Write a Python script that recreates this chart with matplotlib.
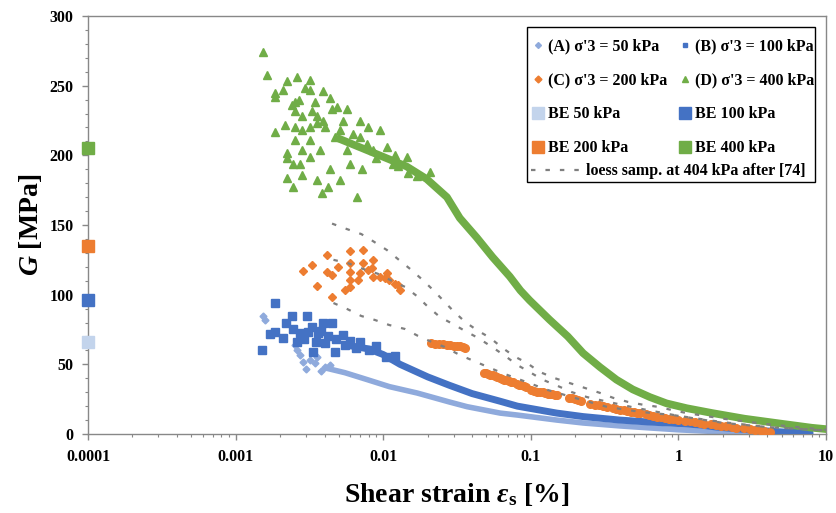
import matplotlib
matplotlib.use('Agg')
import matplotlib.pyplot as plt
from matplotlib.lines import Line2D
from matplotlib.patches import Rectangle
from matplotlib.ticker import FuncFormatter, MultipleLocator

plt.rcParams['font.family'] = ['Liberation Serif', 'DejaVu Serif']
plt.rcParams['font.weight'] = 'bold'
plt.rcParams['mathtext.fontset'] = 'custom'
plt.rcParams['mathtext.rm'] = 'Liberation Serif:bold'
plt.rcParams['mathtext.it'] = 'Liberation Serif:bold:italic'

# --- data (strain in %, G in MPa) ---
# (A) sigma'3 = 50 kPa : scattered start + dense band
a_scat_x = [0.00153, 0.00158, 0.00252, 0.0026, 0.00273, 0.00285, 0.00319, 0.00345,
            0.00356, 0.00403, 0.00437, 0.0030, 0.0038]
a_scat_g = [85, 82, 64, 60, 57, 52, 53, 51, 55, 48, 49.5, 47, 45]
a_band_x = [0.0042, 0.0055, 0.0078, 0.011, 0.017, 0.028, 0.037, 0.062, 0.081, 0.15,
            0.226, 0.4, 0.65, 1.0, 1.8, 3.0]
a_band_g = [47, 44, 39, 34, 29.4, 23, 19.6, 15, 13.6, 10, 7.9, 5.8, 4.3, 3.0, 1.7, 0.8]

# (B) sigma'3 = 100 kPa
b_scat_x = [0.00151, 0.00185, 0.00185, 0.00209, 0.0024, 0.00245, 0.00273, 0.00305,
            0.00309, 0.0033, 0.00334, 0.00362, 0.00391, 0.00403, 0.0045, 0.00471,
            0.00534, 0.0017, 0.0022, 0.0026, 0.0029, 0.0035, 0.0042, 0.0055, 0.006,
            0.0038, 0.0048, 0.0065, 0.007, 0.008, 0.009, 0.0105, 0.012]
b_scat_g = [60, 94, 73, 69, 85, 75, 72.5, 85, 73, 77, 59, 72.5, 80, 65, 80, 59,
            71, 72, 80, 66, 68, 66, 70, 64, 67, 74, 68, 62, 66, 60, 63, 55, 56]
b_band_x = [0.0055, 0.008, 0.01, 0.013, 0.02, 0.028, 0.04, 0.062, 0.081, 0.15,
            0.226, 0.4, 0.65, 1.0, 1.4, 1.8, 3.0, 5.0, 7.8]
b_band_g = [64, 61, 57, 50, 41, 35, 29, 23.5, 20, 15, 12.5, 10, 8.5, 7.5, 6.5, 5,
            3, 1.5, 0.7]

# (C) sigma'3 = 200 kPa : scattered points + clustered segments
c_scat_x = [0.00286, 0.0033, 0.00356, 0.00416, 0.00416, 0.0045, 0.00494, 0.00551,
            0.00595, 0.00595, 0.00595, 0.00595, 0.00675, 0.0073, 0.0073, 0.0070,
            0.0079, 0.0085, 0.0085, 0.0095, 0.0103, 0.011, 0.012, 0.013, 0.0045,
            0.00595, 0.0084, 0.0106, 0.0126]
c_scat_g = [117, 121, 106, 128.5, 116, 98.5, 120, 103.5, 131, 123, 116, 110.5,
            110.5, 132, 122.5, 115.5, 117.7, 125, 113, 113, 112, 110.5, 108, 103.5,
            114, 105.5, 119, 115.5, 107]
c_clus_x = [0.021, 0.0225, 0.024, 0.0255, 0.027, 0.0285, 0.030, 0.0315, 0.033, 0.0345, 0.036,
            0.048, 0.0495, 0.051, 0.053, 0.055, 0.057, 0.059,
            0.062, 0.064, 0.066, 0.0685, 0.071, 0.0735, 0.076,
            0.080, 0.083, 0.086, 0.0895, 0.093,
            0.10, 0.105, 0.11, 0.115, 0.12, 0.125, 0.13, 0.135, 0.14, 0.145, 0.15,
            0.18, 0.19, 0.20, 0.21, 0.22,
            0.25, 0.27, 0.29, 0.31, 0.33,
            0.36, 0.38, 0.40, 0.425, 0.45, 0.475, 0.50, 0.525, 0.55,
            0.60, 0.635, 0.67, 0.715, 0.76, 0.81, 0.86, 0.92, 0.99,
            1.1, 1.2, 1.3, 1.4, 1.5, 1.65, 1.8, 1.95, 2.1, 2.3, 2.46,
            2.8, 3.05, 3.3, 3.55, 3.8, 4.2]
c_clus_g = [65, 64.8, 64.5, 64.3, 64, 63.8, 63.5, 63.3, 63, 62.5, 62,
            44, 43.5, 43, 42.5, 42, 41.5, 41,
            40, 39.5, 39, 38.5, 38, 37.5, 37,
            36, 35.5, 35, 34.5, 34,
            31.5, 31, 30.5, 30.3, 30, 29.5, 29, 28.8, 28.5, 28.2, 28,
            26, 25.5, 25, 24.2, 23.5,
            21.5, 21, 20.5, 20, 19.5,
            18.6, 18, 17.5, 17, 16.5, 16, 15.5, 15.2, 15,
            14, 13.5, 13, 12.5, 12, 11.5, 11, 10.5, 10,
            9.5, 9, 8.5, 8, 7.5, 7, 6.5, 6, 5.5, 5, 4.5,
            4, 3.5, 3, 2.6, 2.2, 1.5]

# (D) sigma'3 = 400 kPa
d_scat_x = [0.00153, 0.00163, 0.00185, 0.00185, 0.00209, 0.00223, 0.0026, 0.00295,
            0.00319, 0.00319, 0.00185, 0.00216, 0.00223, 0.00223, 0.00245, 0.00223,
            0.00253, 0.00253, 0.00253, 0.00253, 0.00282, 0.00282, 0.00282, 0.00273,
            0.00245, 0.00282, 0.00319, 0.00319, 0.00319, 0.00345, 0.00356, 0.00373,
            0.00356, 0.00385, 0.00391, 0.00403, 0.00436, 0.0045, 0.00486, 0.00471,
            0.00436, 0.00423, 0.0051, 0.00534, 0.00568, 0.00696, 0.00788, 0.00664,
            0.0051, 0.00568, 0.00596, 0.00696, 0.00718, 0.00946, 0.0085, 0.0106,
            0.0116, 0.0144, 0.0207, 0.0147, 0.00356, 0.0027, 0.0024, 0.0039, 0.0033,
            0.0062, 0.0078, 0.009, 0.012, 0.0125, 0.017]
d_scat_g = [274, 258, 245, 242, 247, 253, 256, 248, 254, 247, 217, 222, 202, 198,
            194, 184, 238, 232, 220, 211, 228, 218, 204, 194, 177, 186, 220, 211,
            199, 238, 228, 204, 182, 173, 225, 220, 241, 233, 235, 213, 190, 177,
            218, 225, 233, 225, 220, 170, 182, 204, 194, 213, 190, 218, 204, 206,
            194, 199, 188, 187, 223, 240, 236, 246, 232, 215, 208, 198, 200, 192, 185]
d_band_x = [0.005, 0.0085, 0.0144, 0.0197, 0.027, 0.033, 0.043, 0.055, 0.072, 0.085,
            0.098, 0.134, 0.178, 0.226, 0.294, 0.38, 0.49, 0.64, 0.83, 1.14, 1.7,
            2.8, 4.9, 8.0, 10.0]
d_band_g = [212, 202, 192, 183, 170, 155, 141, 127, 113, 103, 96, 82, 70, 58, 48,
            39, 32, 26.5, 22, 18.5, 15, 11, 7.5, 4.5, 3.5]

# bender element values at 0.0001 %
be_labels = ['BE 50 kPa', 'BE 100 kPa', 'BE 200 kPa', 'BE 400 kPa']
be_g = [66, 96, 135, 205]

# loess sample at 404 kPa after [74] (three dashed curves)
l1_x = [0.0045, 0.0057, 0.0071, 0.0085, 0.0106, 0.0126, 0.0152, 0.0183, 0.0217,
        0.0254, 0.0297, 0.0358, 0.0432, 0.053, 0.0638, 0.078, 0.094, 0.115, 0.146,
        0.184, 0.233, 0.294, 0.36, 0.456, 0.575, 0.727, 0.92, 1.14, 2.0, 4.0, 10.0]
l1_g = [151, 147, 143.5, 138.5, 132, 125.5, 118.5, 111, 103.5, 96, 88.5, 80.5, 74.5,
        69, 62, 55.5, 51, 44.5, 40, 36.5, 33, 29.5, 26, 23, 21, 19.5, 17, 15, 11,
        7, 3]
l2_x = [0.0046, 0.0058, 0.0073, 0.0092, 0.0114, 0.0141, 0.0169, 0.020, 0.0242,
        0.029, 0.0358, 0.0438, 0.0545, 0.067, 0.081, 0.098, 0.12, 0.152, 0.19, 0.24,
        0.294, 0.5, 1.0, 2.0, 4.0, 10.0]
l2_g = [125, 122.5, 118.5, 115, 110, 105.5, 99, 91.5, 84, 79.5, 74, 69, 62.5, 56,
        49.5, 44.5, 39, 34.5, 30, 26.5, 24.4, 19, 13, 8.5, 5, 2.5]
l3_x = [0.0046, 0.0057, 0.0071, 0.0088, 0.011, 0.014, 0.0172, 0.0214, 0.026, 0.033,
        0.0638, 0.13, 0.2, 0.33, 0.56, 0.92, 2.0, 4.0, 10.0]
l3_g = [94, 89.7, 84.7, 81.8, 78.2, 75.4, 70.4, 66, 62.5, 56.7, 43.8, 31.6, 25.8,
        19.4, 15.8, 13.6, 8, 5, 2.5]

col_a = '#8FAADC'
col_b = '#4472C4'
col_c = '#ED7D31'
col_d = '#70AD47'
be_cols = ['#C3D4EC', col_b, col_c, col_d]
grey = '#7F7F7F'

fig = plt.figure(figsize=(8.36, 5.13), dpi=100)
ax = fig.add_axes([0.1053, 0.154, 0.8828, 0.8148])

# dense bands first, scattered markers on top
ax.plot(a_band_x, a_band_g, color=col_a, lw=4, solid_capstyle='round', zorder=2)
ax.plot(b_band_x, b_band_g, color=col_b, lw=5, solid_capstyle='round', zorder=3)
ax.plot(d_band_x, d_band_g, color=col_d, lw=5.5, solid_capstyle='round', zorder=3)

ax.plot(a_scat_x, a_scat_g, ls='none', marker='D', ms=3.5, color=col_a, zorder=4)
ax.plot(b_scat_x, b_scat_g, ls='none', marker='s', ms=5.5, color=col_b, zorder=4)
ax.plot(c_scat_x, c_scat_g, ls='none', marker='D', ms=4, color=col_c, zorder=4)
ax.plot(c_clus_x, c_clus_g, ls='none', marker='o', ms=5.5, color=col_c, zorder=4)
ax.plot(d_scat_x, d_scat_g, ls='none', marker='^', ms=5.5, color=col_d, zorder=4)

for xs, gs in [(l1_x, l1_g), (l2_x, l2_g), (l3_x, l3_g)]:
    ax.plot(xs, gs, color=grey, lw=1.6, ls=(0, (2, 4.5)), zorder=5)

for g, c in zip(be_g, be_cols):
    ax.plot([0.0001], [g], ls='none', marker='s', ms=8.5, color=c,
            clip_on=False, zorder=6)

ax.set_xscale('log')
ax.set_xlim(0.0001, 10)
ax.set_ylim(0, 300)
ax.yaxis.set_major_locator(MultipleLocator(50))
ax.yaxis.set_minor_locator(MultipleLocator(10))
ax.xaxis.set_major_formatter(FuncFormatter(lambda v, p: '%g' % v))

for s in ax.spines.values():
    s.set_color('#888888')
    s.set_linewidth(1.0)
ax.tick_params(which='major', direction='out', length=4, width=1, color='#888888',
               labelsize=11.5, pad=6.5)
ax.tick_params(which='minor', direction='out', length=2.5, width=0.8, color='#888888')
for lab in ax.get_xticklabels() + ax.get_yticklabels():
    lab.set_fontweight('bold')

ax.set_xlabel(r'Shear strain $\varepsilon_{\mathrm{s}}$ [%]', fontsize=20,
              fontweight='bold', labelpad=12)
ax.set_ylabel(r'$G$ [MPa]', fontsize=20, fontweight='bold', labelpad=4)

# legend: 2 columns of markers, plus a full-width row for the dashed curve
h = [
    Line2D([], [], ls='none', marker='D', ms=3, color=col_a, label="(A) σ'3 = 50 kPa"),
    Line2D([], [], ls='none', marker='D', ms=3.5, color=col_c, label="(C) σ'3 = 200 kPa"),
    Line2D([], [], ls='none', marker='s', ms=8, color=be_cols[0], label=be_labels[0]),
    Line2D([], [], ls='none', marker='s', ms=8, color=be_cols[2], label=be_labels[2]),
    Line2D([], [], ls='none', marker='s', ms=3.5, color=col_b, label="(B) σ'3 = 100 kPa"),
    Line2D([], [], ls='none', marker='^', ms=4, color=col_d, label="(D) σ'3 = 400 kPa"),
    Line2D([], [], ls='none', marker='s', ms=8, color=be_cols[1], label=be_labels[1]),
    Line2D([], [], ls='none', marker='s', ms=8, color=be_cols[3], label=be_labels[3]),
]
leg1 = ax.legend(handles=h, ncol=2, loc='upper left', bbox_to_anchor=(0.602, 0.947),
                 frameon=False, prop={'size': 11.5, 'weight': 'bold'},
                 handlelength=0.7, handletextpad=0.3, columnspacing=0.75,
                 labelspacing=1.13, borderaxespad=0, borderpad=0)
ax.add_artist(leg1)
loess = Line2D([], [], color=grey, lw=1.6, ls=(0, (2, 4.5)),
               label='loess samp. at 404 kPa after [74]')
leg2 = ax.legend(handles=[loess], loc='upper left', bbox_to_anchor=(0.600, 0.648),
                 frameon=False, prop={'size': 11.5, 'weight': 'bold'},
                 handlelength=3.1, handletextpad=0.35, borderaxespad=0, borderpad=0)
ax.add_patch(Rectangle((0.595, 0.603), 0.39, 0.371, transform=ax.transAxes,
                       fill=False, ec='black', lw=1.0, clip_on=False, zorder=10))

fig.savefig('out.png', dpi=100)
